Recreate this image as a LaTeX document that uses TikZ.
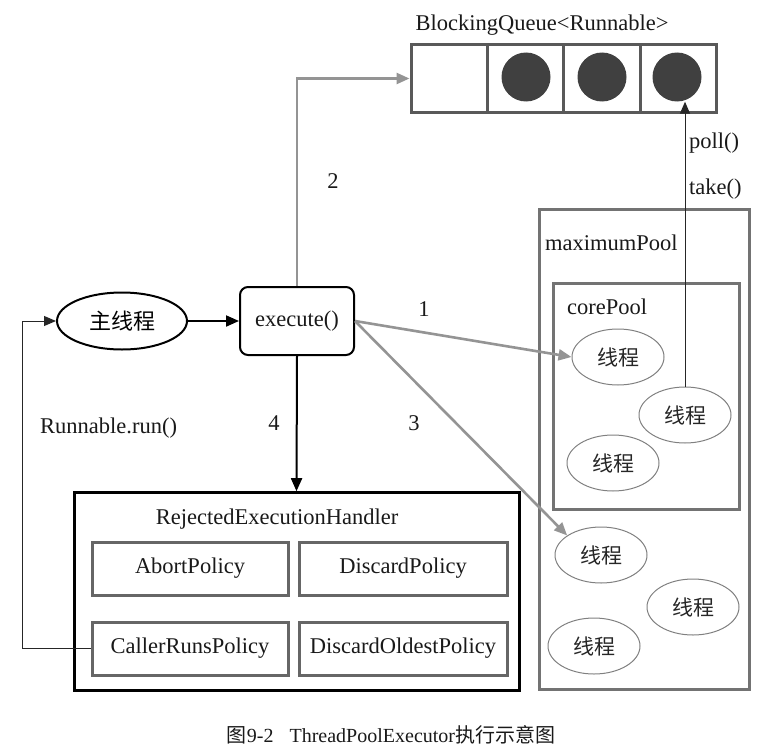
\documentclass[tikz,border=0pt]{standalone}
\usepackage{fontspec}
\setmainfont{Liberation Serif}
\newfontfamily\cjk{Noto Sans CJK SC}
\usetikzlibrary{arrows.meta,shapes.geometric}
\tikzset{
  txt/.style={font=\fontsize{22.5}{26}\selectfont, inner sep=0pt, text=black!90},
  thread/.style={ellipse, draw=black!50, line width=1pt, minimum width=92pt, minimum height=56pt, inner sep=0pt, font=\cjk\fontsize{21}{24}\selectfont, text=black!85},
  policy/.style={draw=black!60, line width=3pt, minimum height=53pt, inner sep=0pt, font=\fontsize{22.5}{26}\selectfont, text=black!90},
  poolbox/.style={draw=black!55, line width=3pt, inner sep=0pt},
  garrow/.style={draw=black!42, line width=2.6pt, -{Triangle[length=13pt,width=11pt]}},
  barrow/.style={draw=black, line width=2pt, -{Triangle[length=13pt,width=11pt]}},
  tarrow/.style={draw=black!85, line width=1pt, -{Triangle[length=12pt,width=10pt]}},
  ball/.style={circle, fill=black!75, minimum size=49pt, inner sep=0pt},
}
\begin{document}
\begin{tikzpicture}[x=1pt,y=-1pt]
\useasboundingbox (0,0) rectangle (784,752);

% queue
\node[txt] (qlabel) at (542,25) {BlockingQueue<Runnable>};
\node[poolbox, draw=black!65, minimum width=305pt, minimum height=67pt] (q) at (563.5,78.5) {};
\draw[draw=black!65, line width=3pt] (487,45) -- (487,112) (563,45) -- (563,112) (640,45) -- (640,112);
\node[ball] (c1) at (526,77) {};
\node[ball] (c2) at (602,77) {};
\node[ball] (c3) at (677,77) {};

% pools
\node[poolbox, minimum width=210pt, minimum height=480pt] (maxp) at (644,449) {};
\node[txt, anchor=west] (maxl) at (545,243) {maximumPool};
\node[poolbox, minimum width=186pt, minimum height=226pt] (corep) at (646,396) {};
\node[txt, anchor=west] (corel) at (567,307) {corePool};

\node[thread] (t1) at (618,357) {线程};
\node[thread] (t2) at (685,415) {线程};
\node[thread] (t3) at (613,463) {线程};
\node[thread] (t4) at (601,555) {线程};
\node[thread] (t5) at (693,607) {线程};
\node[thread] (t6) at (594,646) {线程};

% main thread and execute
\node[ellipse, draw=black, line width=2pt, minimum width=130pt, minimum height=57pt, inner sep=0pt, font=\cjk\fontsize{22}{24}\selectfont] (main) at (122,321) {主线程};
\node[txt, draw=black, line width=2pt, rounded corners=8pt, minimum width=114pt, minimum height=68pt] (exec) at (297,321) {execute()};

% rejected handler
\node[draw=black, line width=3pt, minimum width=445pt, minimum height=198pt, inner sep=0pt] (rej) at (296.5,591.7) {};
\node[txt] (rejl) at (277,519) {RejectedExecutionHandler};
\node[policy, minimum width=196pt] (abort) at (190,568.5) {AbortPolicy};
\node[policy, minimum width=208pt] (disc) at (403,568.5) {DiscardPolicy};
\node[policy, minimum width=196pt] (crp) at (190,648.5) {CallerRunsPolicy};
\node[policy, minimum width=208pt] (dop) at (403,648.5) {DiscardOldestPolicy};

% connectors
\draw[barrow] (main.east) -- (exec.west);
\draw[barrow] (exec.south) -- (rej.north);
\draw[garrow] (exec.north) |- (q.west);
\draw[garrow] (exec.east) -- (t1.west);
\draw[garrow] (exec.east) -- (t4.150);
\draw[tarrow] (t2.north) -- (t2.north |- c3.south);
\coordinate (lp) at (22,648.5);
\draw[tarrow] (crp.west) -- (lp) |- (main.west);

% labels
\node[txt] (l1) at (424,309) {1};
\node[txt] (l2) at (333,181) {2};
\node[txt] (l3) at (414,423) {3};
\node[txt] (l4) at (274,423) {4};
\node[txt, anchor=west] (poll) at (689,143) {poll()};
\node[txt, anchor=west] (take) at (689,189) {take()};
\node[txt, anchor=west] (run) at (40,428) {Runnable.run()};

% caption
\node[inner sep=0pt, font=\fontsize{20}{22}\selectfont, text=black!90] (cap) at (391,735) {{\cjk 图}9-2\hspace{16pt}ThreadPoolExecutor{\cjk 执行示意图}};
\end{tikzpicture}
\end{document}
